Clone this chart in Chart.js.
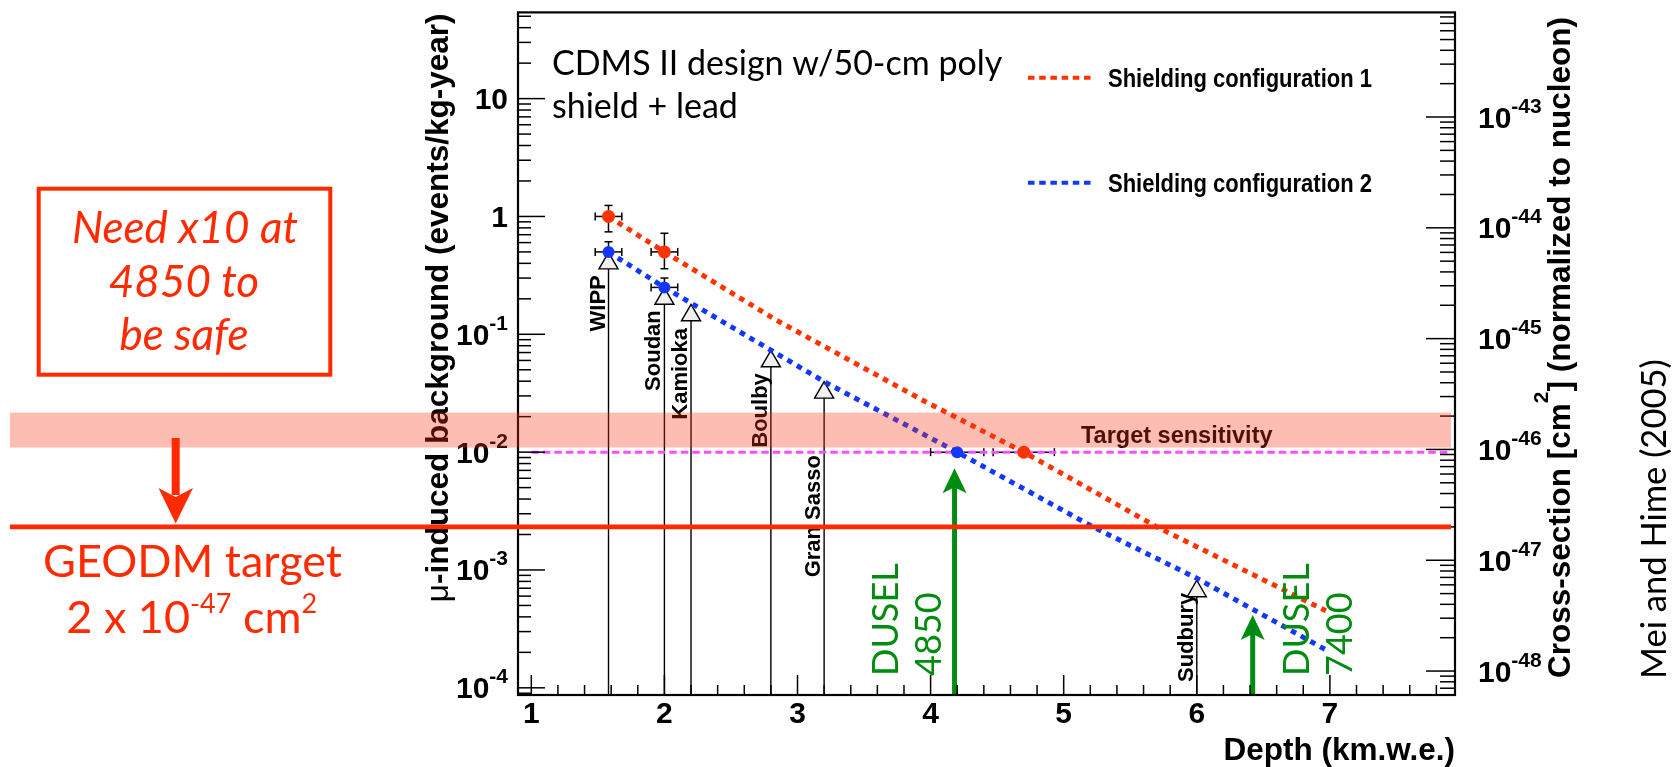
<!DOCTYPE html>
<html>
<head>
<meta charset="utf-8">
<title>Muon-induced background vs depth</title>
<script src="https://cdn.jsdelivr.net/npm/chart.js@4.4.1/dist/chart.umd.min.js"></script>
<style>
  html, body { margin: 0; padding: 0; background: #fff; }
  #chart { display: block; }
</style>
</head>
<body>
<canvas id="chart" width="1676" height="767"></canvas>
<script>
// ---- axes
const depthTicks = [1, 2, 3, 4, 5, 6, 7];
const depthRange = [0.9, 7.94];
const depthMinorStep = 0.2;

const bgRange = [8.69e-5, 53.9];
const bgDecades = [1e-4, 1e-3, 1e-2, 1e-1, 1, 10];
const bgDecadeLabels = [['10', '-4'], ['10', '-3'], ['10', '-2'], ['10', '-1'], ['1', ''], ['10', '']];

const xsRange = [6.08e-49, 8.79e-43];
const xsDecades = [1e-48, 1e-47, 1e-46, 1e-45, 1e-44, 1e-43];
const xsDecadeLabels = [['10', '-48'], ['10', '-47'], ['10', '-46'], ['10', '-45'], ['10', '-44'], ['10', '-43']];

// ---- shielding curves (events/kg-year vs km.w.e.)
const config1Depth = [1.58, 2.0, 2.84, 3.94, 4.7, 5.7, 6.97];
const config1Bg = [1.0, 0.5, 0.132, 0.0276, 0.01, 0.00232, 0.00045];
const config2Depth = [1.58, 2.0, 2.84, 3.22, 4.2, 5.22, 6.0, 6.97];
const config2Bg = [0.5, 0.25, 0.069, 0.0385, 0.01, 0.00232, 0.00085, 0.00021];

// measured points with errors
const config1PtDepth = [1.58, 2.0, 4.7];
const config1PtBg = [1.0, 0.5, 0.01];
const config1ErrX = [0.1, 0.1, 0.23];
const config1ErrHi = [1.24, 0.72, 0.01];
const config1ErrLo = [0.74, 0.36, 0.01];
const config2PtDepth = [1.58, 2.0, 4.2];
const config2PtBg = [0.5, 0.25, 0.01];
const config2ErrX = [0.1, 0.1, 0.2];
const config2ErrHi = [0.61, 0.30, 0.01];
const config2ErrLo = [0.40, 0.20, 0.01];

// underground sites
const labNames = ['WIPP', 'Soudan', 'Kamioka', 'Boulby', 'Gran Sasso', 'Sudbury'];
const labDepth = [1.58, 2.0, 2.2, 2.8, 3.2, 6.0];
const labBg = [0.40, 0.20, 0.145, 0.059, 0.032, 0.00066];
const labLabelAt = [0.317, 0.16, 0.113, 0.0468, 0.00944, 0.00064];

// DUSEL levels
const duselText = [['DUSEL', '4850'], ['DUSEL', '7400']];
const duselDepth = [4.18, 6.42];
const duselTipBg = [0.0073, 0.000414];

// targets
const targetDepth = [1.0, 7.9];
const targetBg = [0.01, 0.01];
const targetBandXs = [1.04e-46, 2.15e-46];
const geodmXs = 2e-47;

const RED = '#ff2a00';
const DATA_RED = '#ff3300';
const BLUE = '#1238ff';
const GREEN = '#008c10';
const MAGENTA = '#ff4dff';
const ROOT_FONT = "'Liberation Sans', Arial, sans-serif";
const SLIDE_FONT = "Lato, 'Open Sans', sans-serif";

const xy = (xs, ys) => xs.map((v, i) => ({x: v, y: ys[i]}));

function seg(ctx, x0, y0, x1, y1) {
  ctx.beginPath();
  ctx.moveTo(x0, y0);
  ctx.lineTo(x1, y1);
  ctx.stroke();
}

function rotatedText(ctx, text, px, py, align) {
  ctx.save();
  ctx.translate(px, py);
  ctx.rotate(-Math.PI / 2);
  ctx.textAlign = align;
  ctx.textBaseline = 'alphabetic';
  ctx.fillText(text, 0, 0);
  ctx.restore();
}

function drawErrors(ctx, x, y, xs, ys, ex, hi, lo) {
  ctx.strokeStyle = '#000';
  ctx.lineWidth = 1.5;
  xs.forEach((d, i) => {
    const px = x.getPixelForValue(d), py = y.getPixelForValue(ys[i]);
    const x0 = x.getPixelForValue(d - ex[i]), x1 = x.getPixelForValue(d + ex[i]);
    seg(ctx, x0, py, x1, py);
    seg(ctx, x0, py - 4, x0, py + 4);
    seg(ctx, x1, py - 4, x1, py + 4);
    if (hi[i] > ys[i]) {
      const yh = y.getPixelForValue(hi[i]);
      seg(ctx, px, py, px, yh);
      seg(ctx, px - 4, yh, px + 4, yh);
    }
    if (lo[i] < ys[i]) {
      const yl = y.getPixelForValue(lo[i]);
      seg(ctx, px, py, px, yl);
      seg(ctx, px - 4, yl, px + 4, yl);
    }
  });
}

function expLabel(ctx, base, sup, px, py, align) {
  const baseFont = 'bold 30px ' + ROOT_FONT, supFont = 'bold 21px ' + ROOT_FONT;
  ctx.font = baseFont;
  const wb = ctx.measureText(base).width;
  ctx.font = supFont;
  const ws = sup ? ctx.measureText(sup).width : 0;
  const x0 = align === 'right' ? px - wb - ws : px;
  const by = py + 10.5;
  ctx.textAlign = 'left';
  ctx.textBaseline = 'alphabetic';
  ctx.font = baseFont;
  ctx.fillText(base, x0, by);
  if (sup) {
    ctx.font = supFont;
    ctx.fillText(sup, x0 + wb, by - 15);
  }
}

const decor = {
  id: 'decor',
  beforeDatasetsDraw(chart) {
    const {ctx, chartArea: a} = chart;
    const x = chart.scales.x, y = chart.scales.y;
    ctx.save();
    // vertical lines under the site markers
    ctx.strokeStyle = '#000';
    ctx.lineWidth = 1.4;
    labDepth.forEach((d, i) => {
      const px = x.getPixelForValue(d);
      seg(ctx, px, a.bottom, px, y.getPixelForValue(labBg[i]));
    });
    ctx.fillStyle = '#000';
    ctx.font = 'bold 22px ' + ROOT_FONT;
    labNames.forEach((name, i) => {
      rotatedText(ctx, name, x.getPixelForValue(labDepth[i]) - 4, y.getPixelForValue(labLabelAt[i]), 'right');
    });

    drawErrors(ctx, x, y, config1PtDepth, config1PtBg, config1ErrX, config1ErrHi, config1ErrLo);
    drawErrors(ctx, x, y, config2PtDepth, config2PtBg, config2ErrX, config2ErrHi, config2ErrLo);

    ctx.fillStyle = '#000';
    ctx.textAlign = 'left';
    ctx.textBaseline = 'alphabetic';
    ctx.font = 'bold 23.5px ' + ROOT_FONT;
    ctx.fillText('Target sensitivity', 1081, 443);

    // left axis title, end aligned to the top of the frame
    ctx.save();
    ctx.translate(448, a.top + 1);
    ctx.rotate(-Math.PI / 2);
    ctx.textBaseline = 'alphabetic';
    ctx.textAlign = 'left';
    const muFont = '31.5px ' + ROOT_FONT, restFont = 'bold 31.5px ' + ROOT_FONT;
    const rest = '-induced background (events/kg-year)';
    ctx.font = muFont;
    const wm = ctx.measureText('\u03bc').width;
    ctx.font = restFont;
    const wr = ctx.measureText(rest).width;
    ctx.font = muFont;
    ctx.fillText('\u03bc', -wm - wr, 0);
    ctx.font = restFont;
    ctx.fillText(rest, -wr, 0);
    ctx.restore();
    ctx.restore();
  },

  afterDatasetsDraw(chart) {
    const {ctx, chartArea: a} = chart;
    const x = chart.scales.x, y = chart.scales.y, y2 = chart.scales.y2;
    ctx.save();

    // DUSEL arrows
    ctx.fillStyle = GREEN;
    ctx.strokeStyle = GREEN;
    duselDepth.forEach((d, i) => {
      const px = x.getPixelForValue(d), tip = y.getPixelForValue(duselTipBg[i]);
      ctx.lineWidth = 5;
      seg(ctx, px, a.bottom, px, tip + 18);
      ctx.beginPath();
      ctx.moveTo(px, tip);
      ctx.lineTo(px - 12, tip + 25);
      ctx.lineTo(px, tip + 19);
      ctx.lineTo(px + 12, tip + 25);
      ctx.closePath();
      ctx.fill();
      const offs = i === 0 ? [-57, -14] : [56, 99];
      ctx.font = '36px ' + SLIDE_FONT;
      duselText[i].forEach((t, k) => rotatedText(ctx, t, px + offs[k], 676, 'left'));
    });

    // frame
    ctx.strokeStyle = '#000';
    ctx.lineWidth = 2.2;
    ctx.strokeRect(a.left, a.top, a.right - a.left, a.bottom - a.top);

    // tick marks, pointing into the frame
    ctx.lineWidth = 1.5;
    for (let k = 1; k * depthMinorStep <= depthRange[1]; k++) {
      const v = k * depthMinorStep;
      if (v < depthRange[0]) continue;
      const px = x.getPixelForValue(v);
      const major = k % 5 === 0;
      seg(ctx, px, a.bottom, px, a.bottom - (major ? 20 : 10));
    }
    for (let e = -5; e <= 1; e++) {
      for (let m = 1; m <= 9; m++) {
        const v = m * Math.pow(10, e);
        if (v < bgRange[0] || v > bgRange[1]) continue;
        const py = y.getPixelForValue(v);
        seg(ctx, a.left, py, a.left + (m === 1 ? 27 : 13), py);
      }
    }
    for (let e = -49; e <= -43; e++) {
      for (let m = 1; m <= 9; m++) {
        const v = m * Math.pow(10, e);
        if (v < xsRange[0] || v > xsRange[1]) continue;
        const py = y2.getPixelForValue(v);
        seg(ctx, a.right, py, a.right - (m === 1 ? 29 : 15), py);
      }
    }

    // tick labels with exponents
    ctx.fillStyle = '#000';
    bgDecades.forEach((v, i) => expLabel(ctx, bgDecadeLabels[i][0], bgDecadeLabels[i][1], a.left - 10, y.getPixelForValue(v), 'right'));
    xsDecades.forEach((v, i) => expLabel(ctx, xsDecadeLabels[i][0], xsDecadeLabels[i][1], a.right + 23, y2.getPixelForValue(v), 'left'));

    // right axis title
    ctx.save();
    ctx.translate(1570, 17);
    ctx.rotate(-Math.PI / 2);
    ctx.textAlign = 'left';
    ctx.textBaseline = 'alphabetic';
    const tf = 'bold 31.5px ' + ROOT_FONT, sf = 'bold 21px ' + ROOT_FONT;
    const p1 = 'Cross-section [cm', p2 = '2', p3 = '] (normalized to nucleon)';
    ctx.font = tf;
    const w1 = ctx.measureText(p1).width, w3 = ctx.measureText(p3).width;
    ctx.font = sf;
    const w2 = ctx.measureText(p2).width;
    let u = -(w1 + w2 + w3);
    ctx.font = tf; ctx.fillText(p1, u, 0); u += w1;
    ctx.font = sf; ctx.fillText(p2, u, -22); u += w2;
    ctx.font = tf; ctx.fillText(p3, u, 0);
    ctx.restore();

    ctx.font = '34.5px ' + SLIDE_FONT;
    rotatedText(ctx, 'Mei and Hime (2005)', 1666, 679, 'left');

    // legend
    chart.data.datasets.slice(0, 2).forEach((ds, i) => {
      const ly = i === 0 ? 77.7 : 182.7;
      ctx.strokeStyle = ds.borderColor;
      ctx.lineWidth = 4;
      ctx.setLineDash([6.5, 4.7]);
      seg(ctx, 1028, ly, 1095, ly);
      ctx.setLineDash([]);
      ctx.save();
      ctx.translate(1108, ly + 9);
      ctx.scale(0.88, 1);
      ctx.fillStyle = '#000';
      ctx.font = 'bold 25px ' + ROOT_FONT;
      ctx.textAlign = 'left';
      ctx.fillText(ds.label, 0, 0);
      ctx.restore();
    });

    ctx.fillStyle = '#000';
    ctx.font = '34px ' + SLIDE_FONT;
    ctx.textAlign = 'left';
    ctx.fillText('CDMS II design w/50-cm poly', 552, 75);
    ctx.fillText('shield + lead', 552, 118);
    ctx.restore();
  },

  afterDraw(chart) {
    const {ctx, chartArea: a} = chart;
    const y2 = chart.scales.y2;
    ctx.save();
    // target band, laid over everything
    const bt = y2.getPixelForValue(targetBandXs[1]), bb = y2.getPixelForValue(targetBandXs[0]);
    ctx.fillStyle = 'rgba(250, 50, 16, 0.32)';
    ctx.fillRect(10, bt, a.right - 4 - 10, bb - bt);

    // GEODM target line
    const gy = y2.getPixelForValue(geodmXs);
    ctx.strokeStyle = RED;
    ctx.lineWidth = 4.7;
    seg(ctx, 10, gy, a.right - 4, gy);

    // arrow down to it
    ctx.fillStyle = RED;
    ctx.lineWidth = 8;
    seg(ctx, 175.7, 438, 175.7, 495);
    ctx.beginPath();
    ctx.moveTo(175.7, gy - 3.5);
    ctx.lineTo(158.5, 488);
    ctx.lineTo(175.7, 497);
    ctx.lineTo(193, 488);
    ctx.closePath();
    ctx.fill();

    // note box
    ctx.lineWidth = 4;
    ctx.strokeRect(38.7, 188.7, 291.6, 186);
    ctx.textAlign = 'center';
    ctx.textBaseline = 'alphabetic';
    ctx.font = 'italic 44px ' + SLIDE_FONT;
    ctx.fillText('Need x10 at', 185, 243);
    ctx.fillText('4850 to', 184, 296.5);
    ctx.fillText('be safe', 184, 350);

    // GEODM caption
    ctx.font = '45px ' + SLIDE_FONT;
    ctx.fillText('GEODM target', 192.5, 576.5);
    const big = '45px ' + SLIDE_FONT, small = '27px ' + SLIDE_FONT;
    const parts = [['2 x 10', big, 0], ['-47', small, -20], [' cm', big, 0], ['2', small, -20]];
    let tw = 0;
    parts.forEach(p => { ctx.font = p[1]; tw += ctx.measureText(p[0]).width; });
    let cx = 191.7 - tw / 2;
    ctx.textAlign = 'left';
    parts.forEach(p => {
      ctx.font = p[1];
      ctx.fillText(p[0], cx, 633 + p[2]);
      cx += ctx.measureText(p[0]).width;
    });
    ctx.restore();
  }
};

new Chart(document.getElementById('chart'), {
  type: 'scatter',
  data: {
    datasets: [
      {
        label: 'Shielding configuration 1',
        data: xy(config1Depth, config1Bg),
        showLine: true,
        borderColor: DATA_RED,
        borderWidth: 5,
        borderDash: [5.5, 5.5],
        pointRadius: 0,
        yAxisID: 'y',
        order: 4
      },
      {
        label: 'Shielding configuration 2',
        data: xy(config2Depth, config2Bg),
        showLine: true,
        borderColor: BLUE,
        borderWidth: 5,
        borderDash: [5.5, 5.5],
        pointRadius: 0,
        yAxisID: 'y',
        order: 4
      },
      {
        label: 'Target sensitivity',
        data: xy(targetDepth, targetBg),
        showLine: true,
        borderColor: MAGENTA,
        borderWidth: 3,
        borderDash: [7.5, 4],
        pointRadius: 0,
        yAxisID: 'y',
        order: 6
      },
      {
        label: 'Sites',
        data: xy(labDepth, labBg),
        pointStyle: 'triangle',
        pointRadius: 11,
        backgroundColor: '#f0f0f0',
        borderColor: '#000',
        borderWidth: 1.4,
        yAxisID: 'y',
        order: 5
      },
      {
        label: 'Configuration 1 points',
        data: xy(config1PtDepth, config1PtBg),
        pointRadius: 6.5,
        backgroundColor: DATA_RED,
        borderWidth: 0,
        yAxisID: 'y',
        order: 1
      },
      {
        label: 'Configuration 2 points',
        data: xy(config2PtDepth, config2PtBg),
        pointRadius: 6,
        backgroundColor: BLUE,
        borderWidth: 0,
        yAxisID: 'y',
        order: 1
      }
    ]
  },
  options: {
    responsive: false,
    animation: false,
    events: [],
    layout: { padding: { top: 12, left: 0, right: 0, bottom: 0 } },
    plugins: { legend: { display: false }, tooltip: { enabled: false } },
    scales: {
      x: {
        type: 'linear',
        min: depthRange[0],
        max: depthRange[1],
        afterBuildTicks: s => { s.ticks = depthTicks.map(v => ({value: v})); },
        afterFit: s => { s.height = 72; },
        grid: { display: false, drawTicks: false },
        border: { display: false },
        ticks: {
          color: '#000', padding: 2, maxRotation: 0, autoSkip: false,
          font: { family: ROOT_FONT, size: 30, weight: 'bold' }
        },
        title: {
          display: true, text: 'Depth (km.w.e.)', align: 'end', color: '#000', padding: 0,
          font: { family: ROOT_FONT, size: 31.5, weight: 'bold', lineHeight: 1 }
        }
      },
      y: {
        type: 'logarithmic',
        position: 'left',
        min: bgRange[0],
        max: bgRange[1],
        afterFit: s => { s.width = 518; },
        grid: { display: false },
        border: { display: false },
        ticks: { display: false }
      },
      y2: {
        type: 'logarithmic',
        position: 'right',
        min: xsRange[0],
        max: xsRange[1],
        afterFit: s => { s.width = 221; },
        grid: { display: false },
        border: { display: false },
        ticks: { display: false }
      }
    }
  },
  plugins: [decor]
});
</script>
</body>
</html>
